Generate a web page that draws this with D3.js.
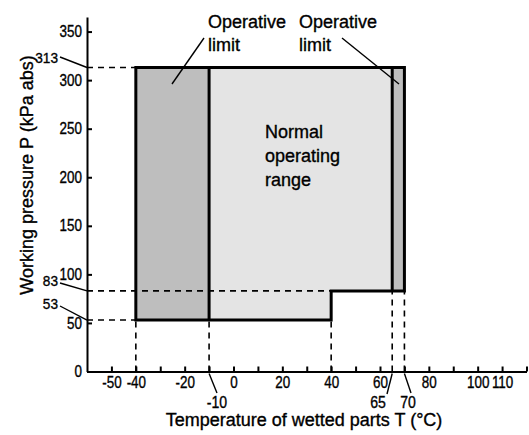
<!DOCTYPE html>
<html><head><meta charset="utf-8">
<script src="https://cdn.jsdelivr.net/npm/d3@7"></script>
<style>body{margin:0;background:#fff}svg{display:block}text{font-family:"Liberation Sans",Arial,sans-serif;fill:#000;stroke:#000;stroke-width:0.35px}</style>
</head><body><svg id="c" width="529" height="435"></svg>
<script>
// ---- data ----
const xTickValues = [-50,-40,-30,-20,-10,0,10,20,30,40,50,60,70,80,90,100,110,120];
const xTickLabels = [-50,-40,-20,0,20,40,60,80,100,110];
const yTickValues = [0,50,100,150,200,250,300,350];
const leftLimitT = [-40,-40,-10,-10];
const leftLimitP = [53,313,313,53];
const normalT = [-10,-10,65,65,40,40];
const normalP = [53,313,313,83,83,53];
const rightLimitT = [65,65,70,70];
const rightLimitP = [83,313,313,83];
const outlineT = [-40,-40,70,70,40,40];
const outlineP = [53,313,313,83,83,53];
const dividerT = [-10,65];
const dividerPmin = [53,83];
const dividerPmax = [313,313];
const refPressures = [313,83,53];
const refPressureTo = [-40,40,-40];
const refTemps = [-40,-10,40,65,70];
const refTempTo = [53,53,53,83,83];
const annotPressures = ["313","83","53"];
const annotTemps = ["-10","65","70"];
const annotTempValues = [-10,65,70];

const svg = d3.select("#c");
const x = d3.scaleLinear().domain([-60,120]).range([87,526.5]);
const y = d3.scaleLinear().domain([0,365]).range([371.5,17]);
const pts = (T,P) => T.map((t,i)=>[x(t),y(P[i])]);
const line = d3.line();

// regions
svg.append("path").attr("d", line(pts(normalT,normalP))+"Z").attr("fill","#e4e4e4");
svg.append("path").attr("d", line(pts(leftLimitT,leftLimitP))+"Z").attr("fill","#bebebe");
svg.append("path").attr("d", line(pts(rightLimitT,rightLimitP))+"Z").attr("fill","#bebebe");

// dashed reference lines
const dash = svg.append("g").attr("stroke","#000").attr("stroke-width",1.6).attr("stroke-dasharray","6,5").attr("fill","none");
refPressures.forEach((p,i)=>dash.append("line").attr("x1",x(-60)).attr("x2",x(refPressureTo[i])).attr("y1",y(p)).attr("y2",y(p)));
refTemps.forEach((t,i)=>dash.append("line").attr("x1",x(t)).attr("x2",x(t)).attr("y1",y(0)).attr("y2",y(refTempTo[i])));

// outline
svg.append("path").attr("d", line(pts(outlineT,outlineP))+"Z").attr("fill","none").attr("stroke","#000").attr("stroke-width",3).attr("stroke-linejoin","miter");
dividerT.forEach((t,i)=>svg.append("line").attr("x1",x(t)).attr("x2",x(t)).attr("y1",y(dividerPmin[i])).attr("y2",y(dividerPmax[i])).attr("stroke","#000").attr("stroke-width",3));

// axes
const fmtX = d => xTickLabels.includes(d) ? d : "";
const gx = svg.append("g").attr("transform",`translate(0,${y(0)})`)
  .call(d3.axisBottom(x).tickValues(xTickValues).tickFormat(fmtX).tickSizeInner(-5).tickSizeOuter(0).tickPadding(5));
const gy = svg.append("g").attr("transform",`translate(${x(-60)},0)`)
  .call(d3.axisLeft(y).tickValues(yTickValues).tickSizeInner(-5).tickSizeOuter(0).tickPadding(6));
[gx,gy].forEach(g=>{
  g.select(".domain").attr("stroke-width",2);
  g.selectAll(".tick line").attr("stroke-width",2);
  g.selectAll("text").attr("font-size",16).attr("font-family",null).attr("fill","#000").attr("transform","scale(0.84,1)");
});

// pressure annotations
const ann = svg.append("g").attr("stroke","#000").attr("stroke-width",1.4);
const pLabelBase = [63,286,309];
const pLeaderY = [57,283,306];
annotPressures.forEach((s,i)=>{
  svg.append("text").attr("transform",`translate(58,${pLabelBase[i]}) scale(0.88,1)`).attr("text-anchor","end").attr("font-size",15.5).text(s);
  ann.append("line").attr("x1",60).attr("y1",pLeaderY[i]).attr("x2",x(-60)).attr("y2",y(refPressures[i]));
});
// temperature annotations
const tLabelX = [217,378,408];
const tLeaderEnd = [[217,393],[387,394],[411,393]];
annotTemps.forEach((s,i)=>{
  svg.append("text").attr("transform",`translate(${tLabelX[i]},407.5) scale(0.88,1)`).attr("text-anchor","middle").attr("font-size",16).text(s);
  ann.append("line").attr("x1",x(annotTempValues[i])).attr("y1",y(0)+2).attr("x2",tLeaderEnd[i][0]).attr("y2",tLeaderEnd[i][1]);
});

// region labels
const lab = (lines,x0,y0,lh)=>{const t=svg.append("text").attr("font-size",18);
  lines.forEach((l,i)=>t.append("tspan").attr("x",x0).attr("y",y0+i*lh).text(l));};
lab(["Operative","limit"],208,28,23);
lab(["Operative","limit"],299,28,23);
lab(["Normal","operating","range"],265,138,24);
ann.append("line").attr("x1",172).attr("y1",84).attr("x2",204).attr("y2",38);
ann.append("line").attr("x1",342).attr("y1",38).attr("x2",399).attr("y2",84);

// axis titles
svg.append("text").attr("x",304).attr("y",426).attr("text-anchor","middle").attr("font-size",18).text("Temperature of wetted parts T (°C)");
svg.append("text").attr("transform","translate(33,175) rotate(-90)").attr("text-anchor","middle").attr("font-size",18).text("Working pressure P (kPa abs)");
</script></body></html>
